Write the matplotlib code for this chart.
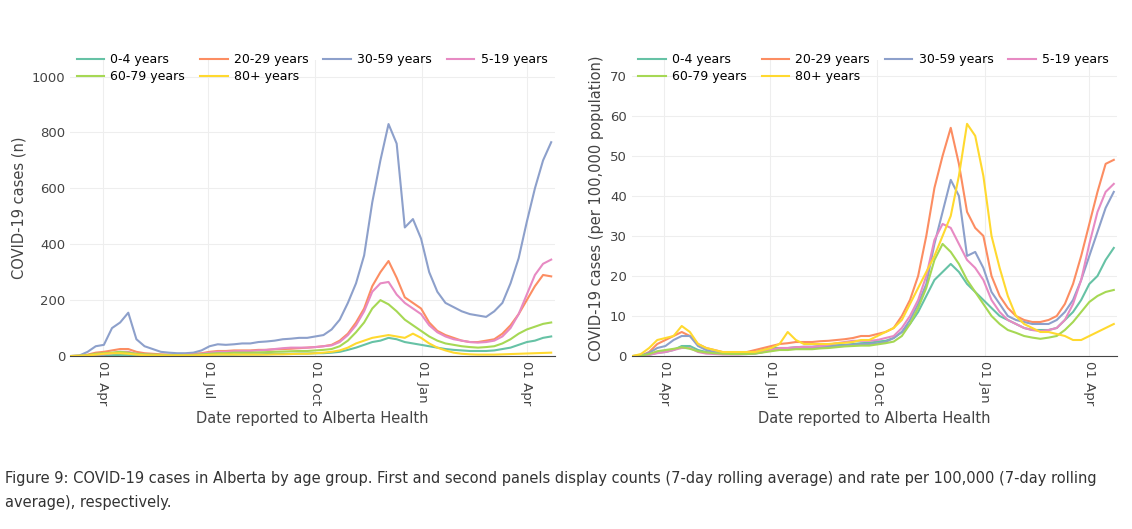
import matplotlib
matplotlib.use("Agg")
import matplotlib.pyplot as plt
import matplotlib.dates as mdates
import pandas as pd

dates = pd.date_range("2020-03-05", periods=60, freq="7D")
groups = ["0-4 years", "20-29 years", "30-59 years", "5-19 years", "60-79 years", "80+ years"]
colors = ["#66c2a5", "#fc8d62", "#8da0cb", "#e78ac3", "#a6d854", "#ffd92f"]

n_04 = [0,0,1,2,2,3,4,4,3,2,2,1,1,1,2,2,3,4,5,5,5,6,6,6,7,7,8,8,9,9,10,10,12,15,22,30,40,50,55,65,60,50,45,40,35,30,25,22,20,18,18,18,20,25,30,40,50,55,65,70]
n_2029 = [0,1,5,12,15,20,25,25,15,10,8,6,5,5,6,8,10,15,18,18,20,20,20,22,22,24,25,26,28,30,32,35,40,55,80,120,170,250,300,340,280,210,190,170,120,90,75,65,55,50,50,55,60,80,110,150,200,250,290,285]
n_3059 = [0,2,15,35,40,100,120,155,60,35,25,15,12,10,10,12,20,35,42,40,42,45,45,50,52,55,60,62,65,65,70,75,95,130,190,260,360,550,700,830,760,460,490,420,300,230,190,175,160,150,145,140,160,190,260,350,480,600,700,765]
n_519 = [0,0,2,5,6,10,15,15,8,5,4,3,3,3,4,5,8,12,15,15,17,18,18,20,22,25,28,30,30,30,32,35,38,50,75,110,160,230,260,265,220,190,170,150,110,85,70,60,55,50,48,50,55,70,100,150,220,290,330,345]
n_6079 = [0,1,3,8,10,12,15,12,8,6,5,4,3,3,3,4,6,8,10,10,12,12,12,13,14,15,16,17,18,18,20,22,25,35,55,85,120,170,200,185,160,130,110,90,70,55,45,40,35,32,30,32,35,45,60,80,95,105,115,120]
n_80 = [0,1,2,5,8,10,10,8,5,3,2,2,2,2,2,2,3,4,5,5,5,5,5,5,5,6,6,7,8,8,10,12,15,20,30,45,55,65,70,75,70,65,80,65,45,30,20,12,8,6,5,5,5,6,7,8,9,10,11,12]

r_04 = [0,0,0.3,0.8,1,1.5,2.5,2.5,1.5,1,0.8,0.5,0.5,0.5,0.8,1,1.5,2,2,2,2.2,2.3,2.3,2.5,2.6,2.7,2.8,3,3.2,3.3,3.6,3.8,4.5,6,8,11,15,19,21,23,21,18,16,14,12,10,9,8,7,6.5,6.5,6.5,7,9,11,14,18,20,24,27]
r_2029 = [0,0.1,1,3,4,5,6,5,3,2,1.5,1,0.8,0.8,1,1.5,2,2.5,3,3.2,3.5,3.5,3.5,3.7,3.8,4,4.2,4.5,5,5,5.5,6,7,10,14,20,30,42,50,57,48,36,32,30,20,15,12,10,9,8.5,8.5,9,10,13,18,25,33,41,48,49]
r_3059 = [0,0.1,0.8,2,2.5,4,5,5,2.5,1.5,1,0.7,0.5,0.5,0.5,0.6,1,1.5,1.8,1.8,2,2,2,2.2,2.3,2.5,2.7,2.8,3,3,3.2,3.5,4.5,6,9,13,18,28,36,44,40,25,26,22,16,13,10,9,8.5,8,8,8,9,11,14,19,25,31,37,41]
r_519 = [0,0,0.3,0.7,1,1.5,2,2,1,0.6,0.5,0.4,0.4,0.4,0.5,0.7,1,1.5,2,2,2.2,2.3,2.3,2.5,2.8,3.2,3.5,3.8,3.8,3.8,4,4.5,5,7,10,14,20,29,33,32,28,24,22,19,14,11,9,8,7,6.5,6.2,6.5,7,9,13,19,28,36,41,43]
r_6079 = [0,0.1,0.5,1.2,1.5,1.8,2.2,1.8,1.2,0.9,0.7,0.6,0.5,0.5,0.5,0.6,0.9,1.2,1.5,1.5,1.7,1.7,1.7,1.9,2,2.2,2.4,2.5,2.6,2.6,2.9,3.2,3.6,5,8,12,17,24,28,26,23,19,16,13,10,8,6.5,5.8,5,4.6,4.3,4.6,5,6.5,8.5,11,13.5,15,16,16.5]
r_80 = [0,0.5,2,4,4.5,5,7.5,6,3,2,1.5,1,1,1,1,1,1.5,2,3,6,4,3,3,3,3,3.2,3.3,3.5,4,4,5,6,7,9,13,17,21,25,30,35,45,58,55,45,30,22,15,10,8,7,6,6,5.5,5,4,4,5,6,7,8]

counts = [n_04, n_2029, n_3059, n_519, n_6079, n_80]
rates = [r_04, r_2029, r_3059, r_519, r_6079, r_80]

fig = plt.figure(figsize=(11.32, 5.29), dpi=100)
ax1 = fig.add_axes([0.062, 0.327, 0.428, 0.56])
ax2 = fig.add_axes([0.558, 0.327, 0.429, 0.56])

def style(ax, data, ylim, yticks, ylabel):
    hs = []
    for g, c, v in zip(groups, colors, data):
        hs.append(ax.plot(dates, v, color=c, lw=1.5, label=g)[0])
    ax.set_xlim(pd.Timestamp("2020-03-04"), pd.Timestamp("2021-04-25"))
    ax.set_ylim(0, ylim)
    ax.set_yticks(yticks)
    ax.set_xticks(pd.to_datetime(["2020-04-01", "2020-07-01", "2020-10-01", "2021-01-01", "2021-04-01"]))
    ax.xaxis.set_major_formatter(mdates.DateFormatter("%d %b"))
    ax.tick_params(axis="x", labelrotation=-90, length=0, labelsize=9.5, colors="#444")
    ax.tick_params(axis="y", length=0, labelsize=9.5, colors="#444")
    ax.grid(color="#eeeeee", lw=0.8)
    for s in ["top", "right", "left"]:
        ax.spines[s].set_visible(False)
    ax.spines["bottom"].set_color("#444")
    ax.set_ylabel(ylabel, fontsize=10.5, color="#444")
    ax.set_xlabel("Date reported to Alberta Health", fontsize=10.5, color="#444")
    order = [0, 4, 1, 5, 2, 3]
    ax.legend([hs[i] for i in order], [groups[i] for i in order], ncol=4, loc="upper left",
              bbox_to_anchor=(-0.01, 1.06), frameon=False, fontsize=9, handlelength=2.2,
              columnspacing=1.2, labelspacing=0.3, handletextpad=0.5)

style(ax1, counts, 1060, range(0, 1001, 200), "COVID-19 cases (n)")
style(ax2, rates, 74, range(0, 71, 10), "COVID-19 cases (per 100,000 population)")

fig.text(0.004, 0.073, "Figure 9: COVID-19 cases in Alberta by age group. First and second panels display counts (7-day rolling average) and rate per 100,000 (7-day rolling\naverage), respectively.",
         fontsize=10.5, color="#333", va="center", linespacing=1.8)
fig.savefig("out.png", dpi=100)
